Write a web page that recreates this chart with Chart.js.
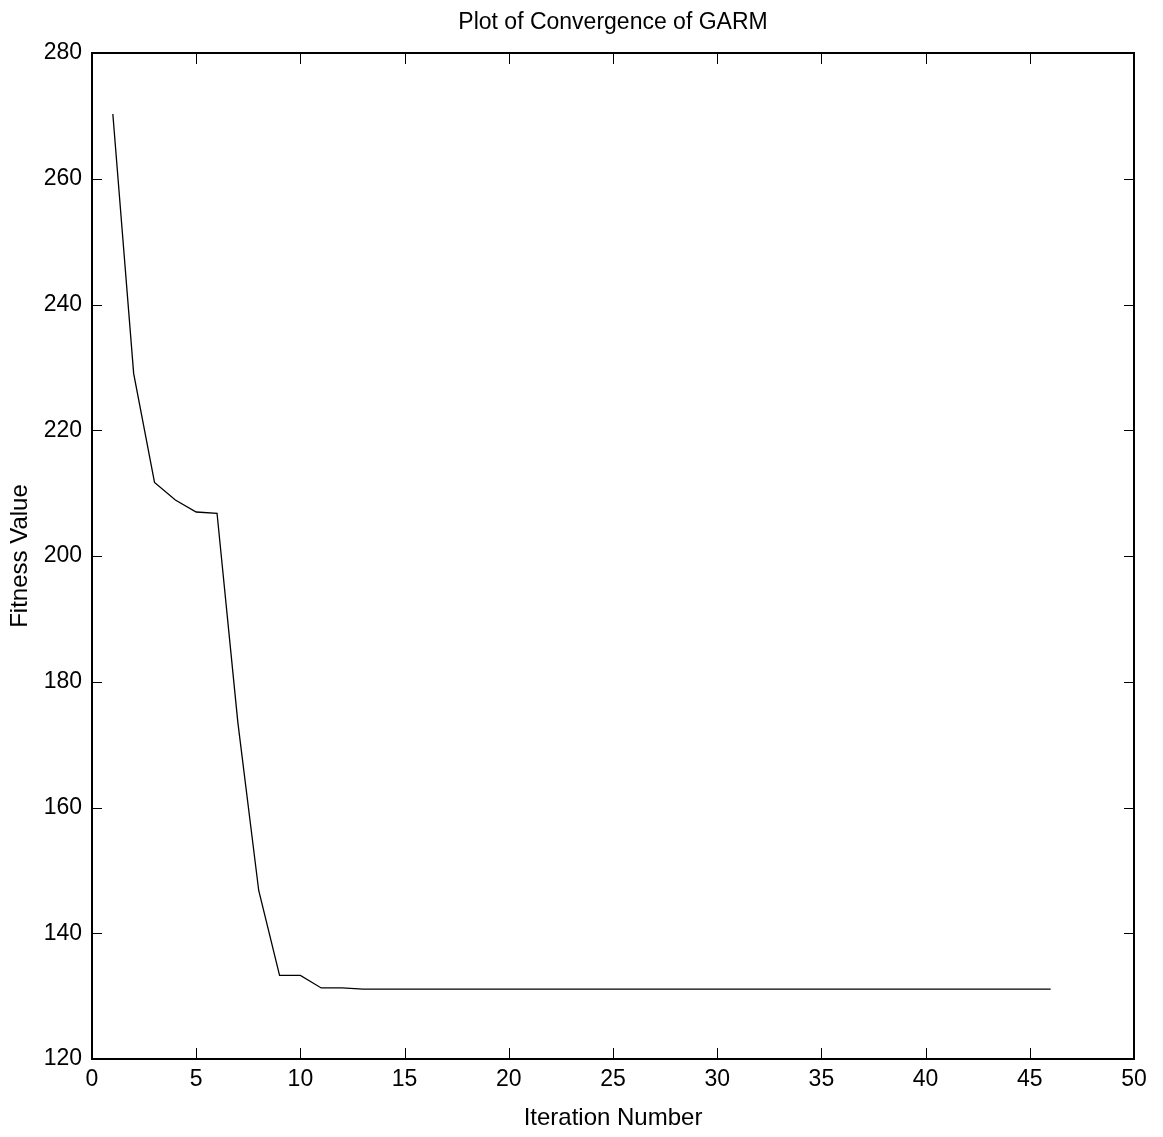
<!DOCTYPE html>
<html>
<head>
<meta charset="utf-8">
<title>Plot of Convergence of GARM</title>
<script src="https://cdn.jsdelivr.net/npm/chart.js@4.4.1/dist/chart.umd.min.js"></script>
<style>
  html, body { margin: 0; padding: 0; background: #fff; }
  #wrap { width: 1163px; height: 1137px; }
</style>
</head>
<body>
<div id="wrap"><canvas id="convergence"></canvas></div>
<script>
// values
const iterations = [1, 2, 3, 4, 5, 6, 7, 8, 9, 10, 11, 12, 13, 14, 15, 16, 17, 18, 19, 20,
  21, 22, 23, 24, 25, 26, 27, 28, 29, 30, 31, 32, 33, 34, 35, 36, 37, 38, 39, 40,
  41, 42, 43, 44, 45, 46];
const fitness = [270.3, 229.0, 211.7, 208.9, 207.0, 206.8, 173.5, 146.8, 133.3, 133.3,
  131.3, 131.3, 131.1, 131.1, 131.1, 131.1, 131.1, 131.1, 131.1, 131.1,
  131.1, 131.1, 131.1, 131.1, 131.1, 131.1, 131.1, 131.1, 131.1, 131.1,
  131.1, 131.1, 131.1, 131.1, 131.1, 131.1, 131.1, 131.1, 131.1, 131.1,
  131.1, 131.1, 131.1, 131.1, 131.1, 131.1];
const xTicks = [0, 5, 10, 15, 20, 25, 30, 35, 40, 45, 50];
const yTicks = [120, 140, 160, 180, 200, 220, 240, 260, 280];

const chartTitle = 'Plot of Convergence of GARM';
const xLabel = 'Iteration Number';
const yLabel = 'Fitness Value';

const FONT = '"Liberation Sans", Arial, Helvetica, sans-serif';

// matlab style box with inward ticks on every side
const matlabBox = {
  id: 'matlabBox',
  afterDraw(chart) {
    const { ctx, chartArea: a, scales } = chart;
    ctx.save();
    ctx.strokeStyle = '#000';
    ctx.lineWidth = 1;
    ctx.beginPath();
    scales.x.ticks.forEach(t => {
      const px = Math.round(scales.x.getPixelForValue(t.value)) + 0.5;
      if (t.value === 0 || t.value === 50) return;
      ctx.moveTo(px, a.bottom); ctx.lineTo(px, a.bottom - 11);
      ctx.moveTo(px, a.top); ctx.lineTo(px, a.top + 11);
    });
    scales.y.ticks.forEach(t => {
      const py = Math.round(scales.y.getPixelForValue(t.value)) + 0.5;
      if (t.value === 120 || t.value === 280) return;
      ctx.moveTo(a.left, py); ctx.lineTo(a.left + 10, py);
      ctx.moveTo(a.right, py); ctx.lineTo(a.right - 10, py);
    });
    ctx.stroke();

    ctx.lineWidth = 2;
    ctx.strokeRect(a.left, a.top, a.right - a.left, a.bottom - a.top);

    ctx.fillStyle = '#000';
    ctx.font = '23px ' + FONT;
    ctx.textAlign = 'center';
    ctx.textBaseline = 'middle';
    ctx.fillText(chartTitle, (a.left + a.right) / 2, 23);
    ctx.restore();
  }
};

const ctx = document.getElementById('convergence');
new Chart(ctx, {
  type: 'line',
  data: {
    datasets: [{
      label: yLabel,
      data: iterations.map((it, i) => ({ x: it, y: fitness[i] })),
      borderColor: '#000',
      borderWidth: 1.3,
      pointRadius: 0,
      tension: 0,
      fill: false
    }]
  },
  options: {
    responsive: true,
    maintainAspectRatio: false,
    animation: false,
    devicePixelRatio: 1,
    layout: { padding: { top: 53, right: 29, left: 0, bottom: 0 } },
    plugins: {
      legend: { display: false },
      title: { display: false },
      tooltip: { enabled: false }
    },
    scales: {
      x: {
        type: 'linear',
        min: 0,
        max: 50,
        afterBuildTicks: scale => { scale.ticks = xTicks.map(v => ({ value: v })); },
        afterFit: scale => { scale.height = 78; },
        grid: { drawOnChartArea: false, drawTicks: false },
        border: { display: true, color: '#000', width: 2 },
        ticks: {
          color: '#000',
          padding: 7,
          maxRotation: 0,
          font: { family: FONT, size: 23 }
        },
        title: {
          display: true,
          text: xLabel,
          color: '#000',
          padding: { top: 0, bottom: 4 },
          font: { family: FONT, size: 24 }
        }
      },
      y: {
        type: 'linear',
        min: 120,
        max: 280,
        afterBuildTicks: scale => { scale.ticks = yTicks.map(v => ({ value: v })); },
        afterFit: scale => { scale.width = 92; },
        grid: { drawOnChartArea: false, drawTicks: false },
        border: { display: true, color: '#000', width: 2 },
        ticks: {
          color: '#000',
          padding: 10,
          font: { family: FONT, size: 23 }
        },
        title: {
          display: true,
          text: yLabel,
          color: '#000',
          padding: { top: 6, bottom: 0 },
          font: { family: FONT, size: 24 }
        }
      }
    }
  },
  plugins: [matlabBox]
});
</script>
</body>
</html>
